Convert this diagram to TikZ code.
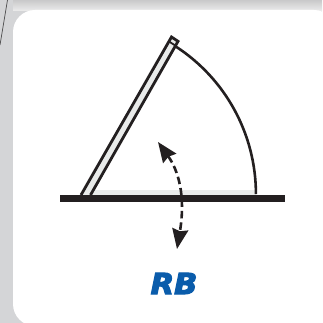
\documentclass[tikz,border=0pt]{standalone}
\usepackage{fontspec}
\usetikzlibrary{arrows.meta}
\newfontfamily\rbfont[BoldItalicFont={DejaVu Sans Bold Oblique}]{DejaVu Sans}
\definecolor{panelgrey}{HTML}{D4D5D7}
\definecolor{rodfill}{HTML}{E9EBEA}
\definecolor{ink}{HTML}{231F20}
\definecolor{rbblue}{HTML}{0A5CAB}
\definecolor{bandtop}{HTML}{C9C9CA}
\definecolor{bandbottom}{HTML}{ECECEC}
\tikzset{
  outline/.style={draw=ink,line width=2.8pt},
  dasharrow/.style={draw=ink,line width=2.6pt,dash pattern=on 7.5pt off 4pt,
    {Stealth[length=20pt,width=16pt,inset=2pt,fill=ink]}-{Stealth[length=20pt,width=16pt,inset=2pt,fill=ink]}},
}
\newcommand{\heavytext}[1]{\special{pdf:code 2 Tr 1.1 w 0.04 0.36 0.67 RG}#1\special{pdf:code 0 Tr}}
\begin{document}
\begin{tikzpicture}[x=1pt,y=-1pt]
\useasboundingbox (0,0) rectangle (322,323);
\clip (0,0) rectangle (322,323);
\fill[panelgrey] (0,0) rectangle (322,323);
\shade[top color=bandtop,bottom color=bandbottom] (13,0) rectangle (322,11);
\draw[line width=0.7pt,black!70] (7.5,0) -- (0,45);
\fill[white,rounded corners=22pt] (13,10) rectangle (336,326);
\fill[rodfill] (92,190) rectangle (256,195);
\coordinate (hinge) at (80,194);
\draw[draw=ink,line width=2.6pt] (175,46) arc[start angle=-57.3,end angle=0,radius=176];
\draw[outline,fill=rodfill,line join=miter] (81,195) -- (171.5,37) -- (178,41.3) -- (90.5,195);
\draw[outline,line width=1.8pt] (169,41.5) -- (175.7,45.8);
\fill[ink] (60,195) rectangle (285,202);
\coordinate (tipA) at (158,142);
\coordinate (tipB) at (177,249);
\draw[dasharrow] (tipA) .. controls (178,170) and (186,195) .. (tipB);
\node[font=\rbfont\bfseries\itshape\fontsize{29}{29}\selectfont,text=rbblue,inner sep=0pt,anchor=center,xscale=1.05] (label) at (174,283.5) {\heavytext{RB}};
\end{tikzpicture}
\end{document}
